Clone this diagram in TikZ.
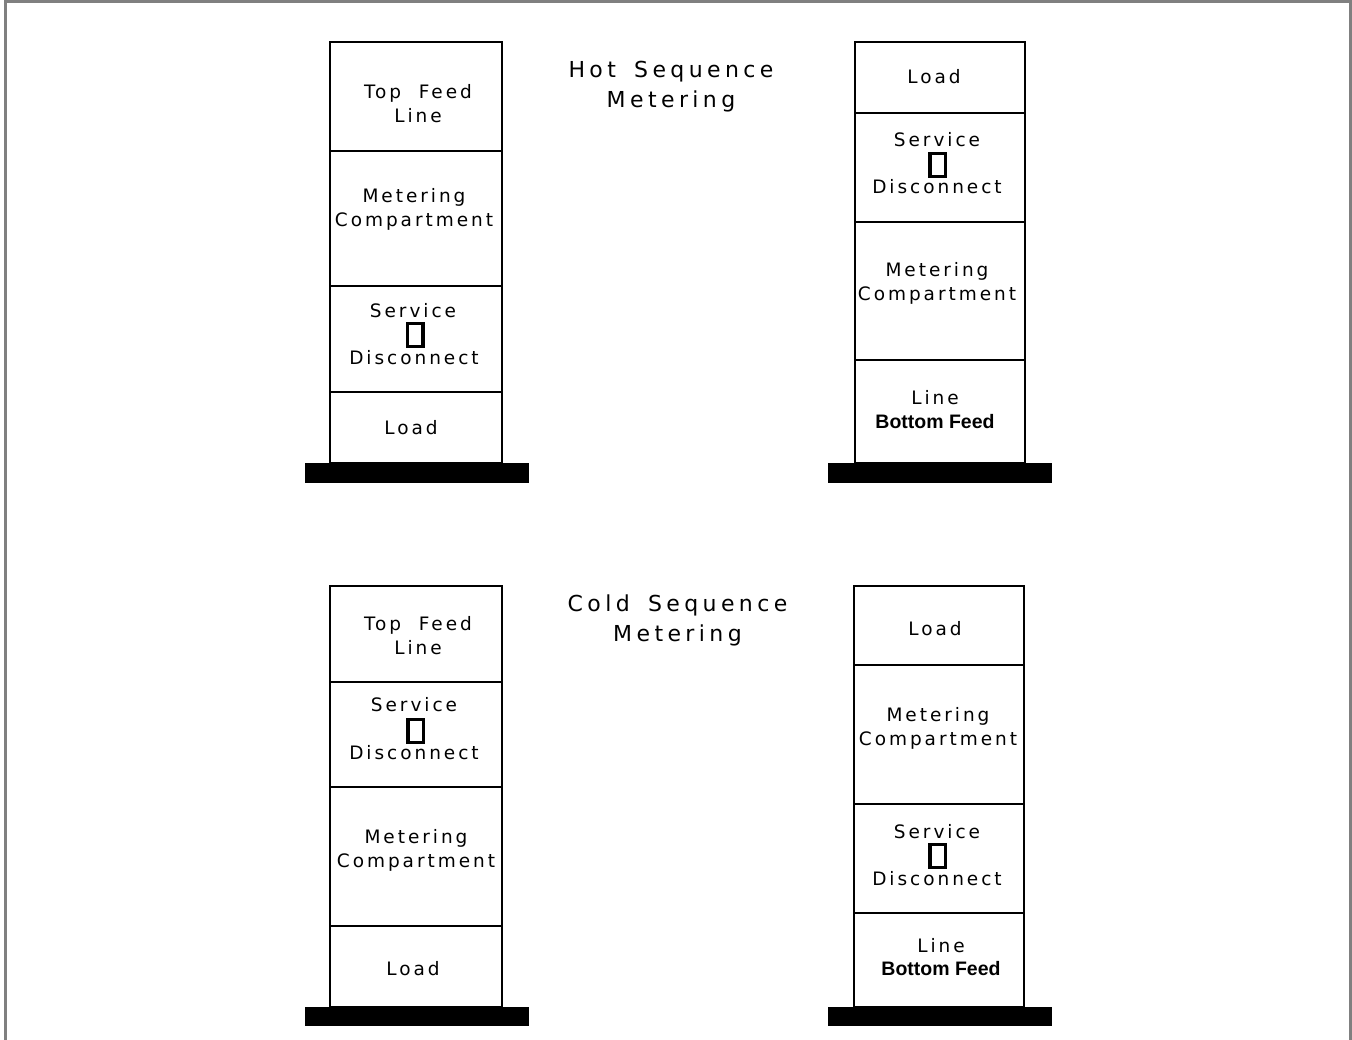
\documentclass[tikz,border=0pt]{standalone}
\usepackage{fontspec}
\newfontfamily\cadfont[LetterSpace=16,WordSpace=2]{DejaVu Sans}
\newfontfamily\cadtitle[LetterSpace=20,WordSpace=1.6]{DejaVu Sans}
\newfontfamily\arialfont{Liberation Sans}
\definecolor{framegray}{RGB}{128,128,128}
\begin{document}
\begin{tikzpicture}[x=1pt,y=-1pt,
  cell/.style={draw=black, line width=2pt, rectangle, inner sep=0pt, outer sep=0pt},
  lbl/.style={font=\cadfont\fontsize{18.5}{24}\selectfont, align=center, inner sep=0pt},
  ttl/.style={font=\cadtitle\fontsize{22}{30}\selectfont, align=center, inner sep=0pt},
  bft/.style={font=\arialfont\bfseries\fontsize{19.5}{24}\selectfont, inner sep=0pt},
  sw/.style={draw=black, line width=3.5pt, rectangle, minimum width=15.5, minimum height=23, inner sep=0pt},
  basebar/.style={fill=black, rectangle, minimum width=224, inner sep=0pt, outer sep=0pt}]
\useasboundingbox (0,0) rectangle (1352,1040);
\draw[framegray, line width=3pt] (5,1041) -- (5,2) -- (1350.5,2) -- (1350.5,1041);

% ---------- Top-left column ----------
\node[cell, minimum width=172, minimum height=109] (tl1) at (416,96.5) {};
\node[cell, minimum width=172, minimum height=135] (tl2) at (416,218.5) {};
\node[cell, minimum width=172, minimum height=106] (tl3) at (416,339) {};
\node[cell, minimum width=172, minimum height=71] (tl4) at (416,427.5) {};
\node[basebar, minimum height=20] (tlb) at (417,473) {};
\node[lbl] (tl1t) at (418,104) {Top Feed\\Line};
\node[lbl] (tl2t) at (414,209) {Metering\\Compartment};
\node[lbl] (tl3a) at (413,311) {Service};
\node[sw] (tl3s) at (415,335) {};
\node[lbl] (tl3b) at (414,358) {Disconnect};
\node[lbl] (tl4t) at (411,428) {Load};

% ---------- Top-right column ----------
\node[cell, minimum width=170, minimum height=71] (tr1) at (940,77.5) {};
\node[cell, minimum width=170, minimum height=109] (tr2) at (940,167.5) {};
\node[cell, minimum width=170, minimum height=138] (tr3) at (940,291) {};
\node[cell, minimum width=170, minimum height=103] (tr4) at (940,411.5) {};
\node[basebar, minimum height=20] (trb) at (940,473) {};
\node[lbl] (tr1t) at (934,77) {Load};
\node[lbl] (tr2a) at (937,140) {Service};
\node[sw] (tr2s) at (937.5,165) {};
\node[lbl] (tr2b) at (937,187) {Disconnect};
\node[lbl] (tr3t) at (937,283) {Metering\\Compartment};
\node[lbl] (tr4a) at (935,398) {Line};
\node[bft] (tr4b) at (935,422) {Bottom Feed};

% ---------- Hot title ----------
\node[ttl] (hot) at (671,86.5) {Hot Sequence\\Metering};

% ---------- Bottom-left column ----------
\node[cell, minimum width=172, minimum height=96] (bl1) at (416,634) {};
\node[cell, minimum width=172, minimum height=105] (bl2) at (416,734.5) {};
\node[cell, minimum width=172, minimum height=139] (bl3) at (416,856.5) {};
\node[cell, minimum width=172, minimum height=81] (bl4) at (416,966.5) {};
\node[basebar, minimum height=19] (blb) at (417,1016.5) {};
\node[lbl] (bl1t) at (418,636) {Top Feed\\Line};
\node[lbl] (bl2a) at (414,705) {Service};
\node[sw] (bl2s) at (415.5,731) {};
\node[lbl] (bl2b) at (414,753) {Disconnect};
\node[lbl] (bl3t) at (416,850) {Metering\\Compartment};
\node[lbl] (bl4t) at (413,969) {Load};

% ---------- Bottom-right column ----------
\node[cell, minimum width=170, minimum height=79] (br1) at (939,625.5) {};
\node[cell, minimum width=170, minimum height=139] (br2) at (939,734.5) {};
\node[cell, minimum width=170, minimum height=109] (br3) at (939,858.5) {};
\node[cell, minimum width=170, minimum height=94] (br4) at (939,960) {};
\node[basebar, minimum height=19] (brb) at (940,1016.5) {};
\node[lbl] (br1t) at (935,629) {Load};
\node[lbl] (br2t) at (938,728) {Metering\\Compartment};
\node[lbl] (br3a) at (937,832) {Service};
\node[sw] (br3s) at (937.5,856) {};
\node[lbl] (br3b) at (937,879) {Disconnect};
\node[lbl] (br4a) at (941,946) {Line};
\node[bft] (br4b) at (941,969) {Bottom Feed};

% ---------- Cold title ----------
\node[ttl] (cold) at (677.5,620.5) {Cold Sequence\\Metering};
\end{tikzpicture}
\end{document}
